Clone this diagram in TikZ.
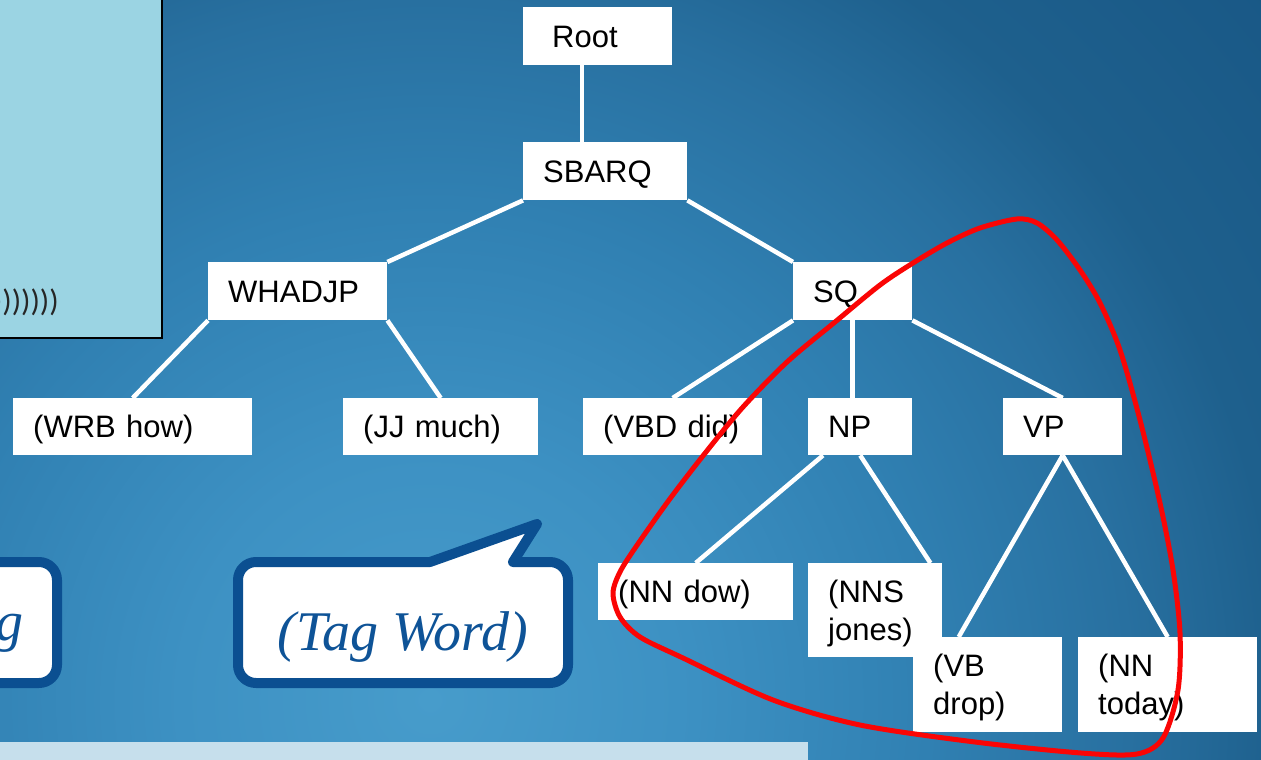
\documentclass[tikz,border=0pt]{standalone}
\usepackage{fontspec}
\setmainfont{Liberation Sans}
\newfontfamily\bubblefont{Liberation Serif}
\newfontfamily\calfont{Carlito}
\definecolor{bubbleblue}{HTML}{0B4F91}
\definecolor{bubbletext}{HTML}{0E5397}
\definecolor{panelblue}{HTML}{9BD4E3}
\definecolor{stripblue}{HTML}{C6DFEC}
\definecolor{loopred}{HTML}{FA0505}
\definecolor{bgA}{HTML}{479CCB}
\definecolor{bgB}{HTML}{3D91C3}
\definecolor{bgC}{HTML}{3080B2}
\definecolor{bgD}{HTML}{2870A0}
\definecolor{bgE}{HTML}{1E608D}
\definecolor{bgF}{HTML}{195886}
\definecolor{bgG}{HTML}{165382}
% the filled path's bounding box spans -25bp..25bp of the shading
\pgfdeclareradialshading{backshade}{\pgfpoint{0bp}{0bp}}{%
  color(0bp)=(bgA); color(4.8bp)=(bgB); color(9.6bp)=(bgC); color(13.45bp)=(bgD);
  color(16.35bp)=(bgE); color(21.15bp)=(bgF); color(25bp)=(bgG); color(50bp)=(bgG)}
\pgfdeclarelayer{bg}
\pgfdeclarelayer{edges}
\pgfdeclarelayer{front}
\pgfsetlayers{bg,edges,main,front}
\tikzset{
  tb/.style={fill=white, anchor=north west, inner xsep=20pt, inner ysep=0pt,
             align=left, font=\fontsize{31}{38}\selectfont},
  oneline/.style={text height=22pt, text depth=0pt},
  twoline/.style={text height=22pt, text depth=38pt},
  edge/.style={draw=white, line width=4.5pt},
  bubble/.style={draw=bubbleblue, fill=white, line width=10pt, line join=round}
}
\begin{document}
\begin{tikzpicture}[x=1pt, y=-1pt]
\useasboundingbox (0,0) rectangle (1261,760);

% background
\begin{pgfonlayer}{bg}
  \begin{scope}
    \clip (0,0) rectangle (1261,760);
    \fill[shading=backshade] (430,700) circle (1300);
    % light panel in the upper left corner
    \filldraw[fill=panelblue, draw=black, line width=1.8pt] (-10,-10) rectangle (162,338);
    % light strip along the bottom
    \fill[stripblue] (-10,742) rectangle (808,770);
  \end{scope}
\end{pgfonlayer}

\node[anchor=east, font=\calfont\fontsize{31}{31}\selectfont, text=black!85, inner sep=0pt] (parens) at (59,302) {)))))))};

% tree nodes
\node[tb, oneline, inner xsep=29pt, text width=91pt, minimum height=58pt] (root) at (523,7) {Root};
\node[tb, oneline, text width=124pt, minimum height=58pt] (sbarq) at (523,142) {SBARQ};
\node[tb, oneline, text width=139pt, minimum height=58pt] (whadjp) at (208,262) {WHADJP};
\node[tb, oneline, text width=79pt, minimum height=58pt] (sq) at (793,262) {SQ};
\node[tb, oneline, text width=199pt, minimum height=57pt] (wrb) at (13,398) {(WRB how)};
\node[tb, oneline, text width=155pt, minimum height=57pt] (jj) at (343,398) {(JJ much)};
\node[tb, oneline, text width=139pt, minimum height=57pt] (vbd) at (583,398) {(VBD did)};
\node[tb, oneline, text width=64pt, minimum height=57pt] (np) at (808,398) {NP};
\node[tb, oneline, text width=79pt, minimum height=57pt] (vp) at (1003,398) {VP};
\node[tb, oneline, text width=155pt, minimum height=57pt] (nndow) at (598,563) {(NN dow)};
\node[tb, twoline, text width=94pt, minimum height=94pt] (nns) at (808,563) {(NNS\\jones)};
\node[tb, twoline, text width=109pt, minimum height=95pt] (vb) at (913,637) {(VB\\drop)};
\node[tb, twoline, text width=139pt, minimum height=95pt] (nntoday) at (1078,637) {(NN\\today)};

% tree edges
\begin{pgfonlayer}{edges}
  \draw[edge] (root.south -| 582,0) -- (sbarq.north -| 582,0);
  \draw[edge] (sbarq.south west) -- (whadjp.north east);
  \draw[edge] (sbarq.south east) -- (sq.north west);
  \draw[edge] (whadjp.south west) -- (wrb.north);
  \draw[edge] (whadjp.south east) -- (jj.north);
  \draw[edge] (sq.south west) -- (vbd.north);
  \draw[edge] (sq.south) -- (sq.south |- np.north);
  \draw[edge] (sq.south east) -- (vp.north);
  \draw[edge] ([xshift=15pt]np.south west) -- (nndow.north);
  \draw[edge] (np.south) -- ([xshift=-12pt]nns.north east);
  \draw[edge] (vp.south) -- ([xshift=-29pt]vb.north);
  \draw[edge] (vp.south) -- (nntoday.north);
\end{pgfonlayer}

% speech bubbles
\draw[bubble, rounded corners=18pt] (-60,562) -- (57,562) -- (57,683) -- (-60,683);
\node[anchor=base east, inner sep=0pt, text=bubbletext,
      font=\bubblefont\itshape\fontsize{56}{56}\selectfont] (gtail) at (24,640) {g};

\draw[bubble] (300,562) -- (430,562) -- (537,524) -- (513,562)
  [rounded corners=18pt] -- (568,562) -- (568,683) -- (238,683) -- (238,562) -- cycle;
\node[anchor=base, inner sep=0pt, text=bubbletext,
      font=\bubblefont\itshape\fontsize{56}{56}\selectfont] (tagword) at (403,650) {(Tag Word)};

% highlighted subtree
\begin{pgfonlayer}{front}
  \draw[loopred, line width=5pt] plot[smooth cycle, tension=0.5] coordinates {
    (1017,219) (980,228) (947,243) (913,263) (880,285) (835,322) (787,362)
    (743,407) (706,452) (672,496) (642,538) (621,570) (613,593) (620,617)
    (640,637) (683,658) (773,700) (860,725) (975,742) (1081,753) (1137,754)
    (1163,738) (1178,690) (1180,633) (1173,570) (1160,503) (1140,420)
    (1120,350) (1100,303) (1080,270) (1057,240) (1037,223)};
\end{pgfonlayer}
\end{tikzpicture}
\end{document}
